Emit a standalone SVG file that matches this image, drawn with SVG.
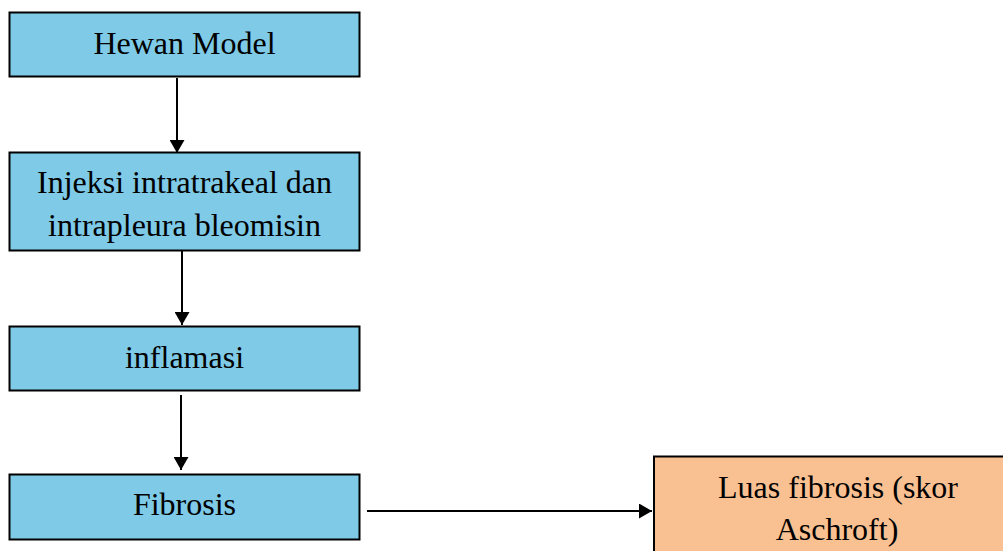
<svg xmlns="http://www.w3.org/2000/svg" width="1003" height="551" viewBox="0 0 1003 551">
  <style>
    .box { stroke: #000; stroke-width: 2; }
    .blue { fill: #7ECAE7; }
    .orange { fill: #F9C092; }
    .label { font-family: "Liberation Serif", "Times New Roman", serif; font-size: 32px; fill: #000; text-anchor: middle; }
    .conn { stroke: #000; stroke-width: 2; fill: none; marker-end: url(#arrow); }
  </style>
  <defs>
    <!-- solid triangular arrowhead, tip at the line end -->
    <marker id="arrow" viewBox="0 0 13 15" refX="13" refY="7.5" markerWidth="13" markerHeight="15" markerUnits="userSpaceOnUse" orient="auto">
      <path d="M0,0 L13,7.5 L0,15 Z" fill="#000"/>
    </marker>
  </defs>
  <rect width="1003" height="551" fill="#fff"/>

  <g id="connectors">
    <line class="conn" x1="177" y1="78" x2="177" y2="153"/>
    <line class="conn" x1="182" y1="251" x2="182" y2="325"/>
    <line class="conn" x1="181" y1="395" x2="181" y2="470"/>
    <line class="conn" x1="367" y1="511" x2="652" y2="511"/>
  </g>

  <g id="hewan-model">
    <rect class="box blue" x="9.5" y="12.5" width="350" height="64"/>
    <text class="label" x="184.5" y="53.5">Hewan Model</text>
  </g>

  <g id="injeksi">
    <rect class="box blue" x="9.5" y="152.5" width="350" height="98"/>
    <text class="label" x="184.5" y="193">Injeksi intratrakeal dan</text>
    <text class="label" x="184.5" y="236">intrapleura bleomisin</text>
  </g>

  <g id="inflamasi">
    <rect class="box blue" x="9.5" y="326.5" width="350" height="64"/>
    <text class="label" x="184.5" y="368">inflamasi</text>
  </g>

  <g id="fibrosis">
    <rect class="box blue" x="9.5" y="474.5" width="350" height="65"/>
    <text class="label" x="184.5" y="515">Fibrosis</text>
  </g>

  <g id="luas-fibrosis">
    <rect class="box orange" x="654" y="456.5" width="420" height="150"/>
    <text class="label" x="838" y="498">Luas fibrosis (skor</text>
    <text class="label" x="837" y="540">Aschroft)</text>
  </g>
</svg>
